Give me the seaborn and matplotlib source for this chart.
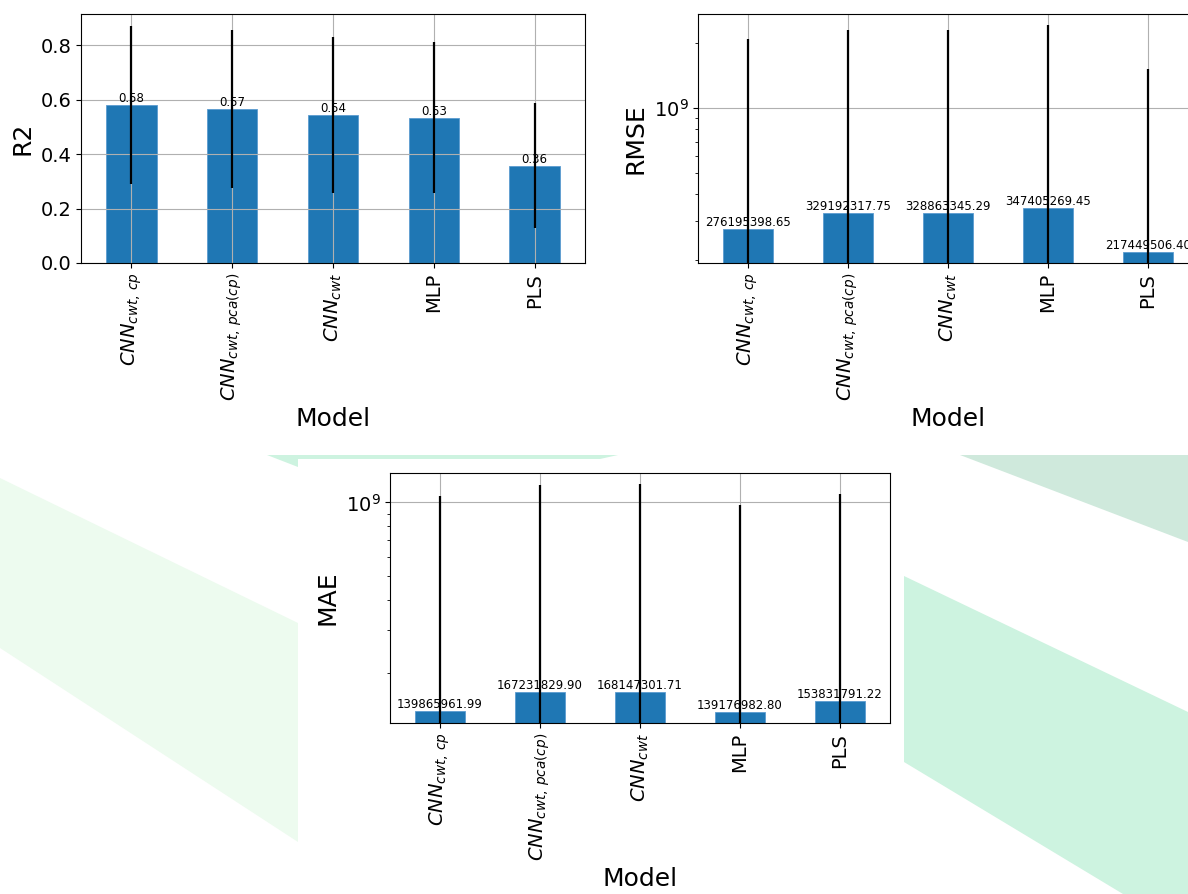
import numpy as np
import matplotlib
matplotlib.use("Agg")
import matplotlib.pyplot as plt
from matplotlib.patches import Polygon
from matplotlib.ticker import NullFormatter
import seaborn as sns

# Model names (mathtext for the CNN variants)
models = [r"$CNN_{cwt,\,cp}$", r"$CNN_{cwt,\,pca(cp)}$", r"$CNN_{cwt}$", "MLP", "PLS"]

# Cross-validated scores: mean and standard deviation per model
r2_mean = [0.582, 0.567, 0.544, 0.534, 0.358]
r2_std = [0.290, 0.290, 0.288, 0.278, 0.230]

rmse_mean = [276195398.65, 329192317.75, 328863345.29, 347405269.45, 217449506.40]
rmse_std = [1.81e9, 1.96e9, 1.96e9, 2.07e9, 1.30e9]

mae_mean = [139865961.99, 167231829.90, 168147301.71, 139176982.80, 153831791.22]
mae_std = [9.25e8, 1.014e9, 1.018e9, 8.40e8, 9.32e8]

sns.set_theme(context="notebook", style="ticks", rc={
    "axes.edgecolor": "black",
    "axes.linewidth": 0.8,
    "axes.axisbelow": "line",
    "axes.labelcolor": "black",
    "text.color": "black",
    "grid.color": "#b0b0b0",
    "grid.linewidth": 0.8,
    "xtick.major.size": 3.5,
    "ytick.major.size": 3.5,
    "ytick.minor.size": 2.0,
    "xtick.major.width": 0.8,
    "ytick.major.width": 0.8,
    "ytick.minor.width": 0.6,
    "xtick.color": "black",
    "ytick.color": "black",
})
plt.rcParams["font.family"] = ["DejaVu Sans"]
plt.rcParams["mathtext.fontset"] = "dejavusans"

W, H = 1188, 894
fig = plt.figure(figsize=(W / 100, H / 100), dpi=100)
fig.patch.set_facecolor("white")


def frac(pts):
    return [(x / W, 1 - y / H) for x, y in pts]


def box(x0, y0, x1, y1):
    return [x0 / W, 1 - y1 / H, (x1 - x0) / W, (y1 - y0) / H]


# Decorative background bands
bands = [
    ([(0, 478), (298, 623), (298, 842), (0, 648)], "#edfbef"),
    ([(267, 455), (618, 455), (600, 459), (298, 459), (298, 467)], "#cdf3e0"),
    ([(960, 455), (1188, 455), (1188, 542)], "#cfe9dc"),
    ([(904, 576), (1188, 712), (1188, 894), (1123, 894), (904, 762)], "#cdf3e0"),
]
for pts, col in bands:
    fig.patches.append(Polygon(frac(pts), closed=True, transform=fig.transFigure,
                               facecolor=col, edgecolor="none", zorder=-1))

BAR = "#1f77b4"


def panel(rect, means, stds, ylabel, log=False):
    ax = fig.add_axes(rect)
    sns.barplot(x=models, y=means, ax=ax, color=BAR, saturation=1,
                width=0.5, errorbar=None, linewidth=0.6, edgecolor="#5b9bd0")
    ax.errorbar(np.arange(len(means)), means, yerr=stds, fmt="none",
                ecolor="black", elinewidth=1.6, capsize=0, zorder=3)
    ax.bar_label(ax.containers[0], fmt="%.2f", fontsize=8.5, padding=0)
    if log:
        ax.set_yscale("log")
        lo = np.log10(min(means))
        hi = np.log10(max(np.add(means, stds)))
        span = hi - lo
        ax.set_ylim(10 ** (lo - 0.05 * span), 10 ** (hi + 0.05 * span))
        ax.yaxis.set_minor_formatter(NullFormatter())
    ax.set_xlim(-0.5, len(means) - 0.5)
    ax.grid(True, which="major")
    ax.xaxis.grid(True)
    ax.tick_params(axis="x", labelrotation=90, labelsize=14)
    ax.tick_params(axis="y", labelsize=14)
    ax.set_xlabel("Model", fontsize=18)
    ax.set_ylabel(ylabel, fontsize=18)
    for s in ax.spines.values():
        s.set_visible(True)
        s.set_color("black")
    return ax


panel(box(81, 14, 585, 263), r2_mean, r2_std, "R2")
panel(box(698, 14, 1198, 263), rmse_mean, rmse_std, "RMSE", log=True)
panel(box(390, 473, 890, 723), mae_mean, mae_std, "MAE", log=True)

fig.savefig("out.png", dpi=100)
